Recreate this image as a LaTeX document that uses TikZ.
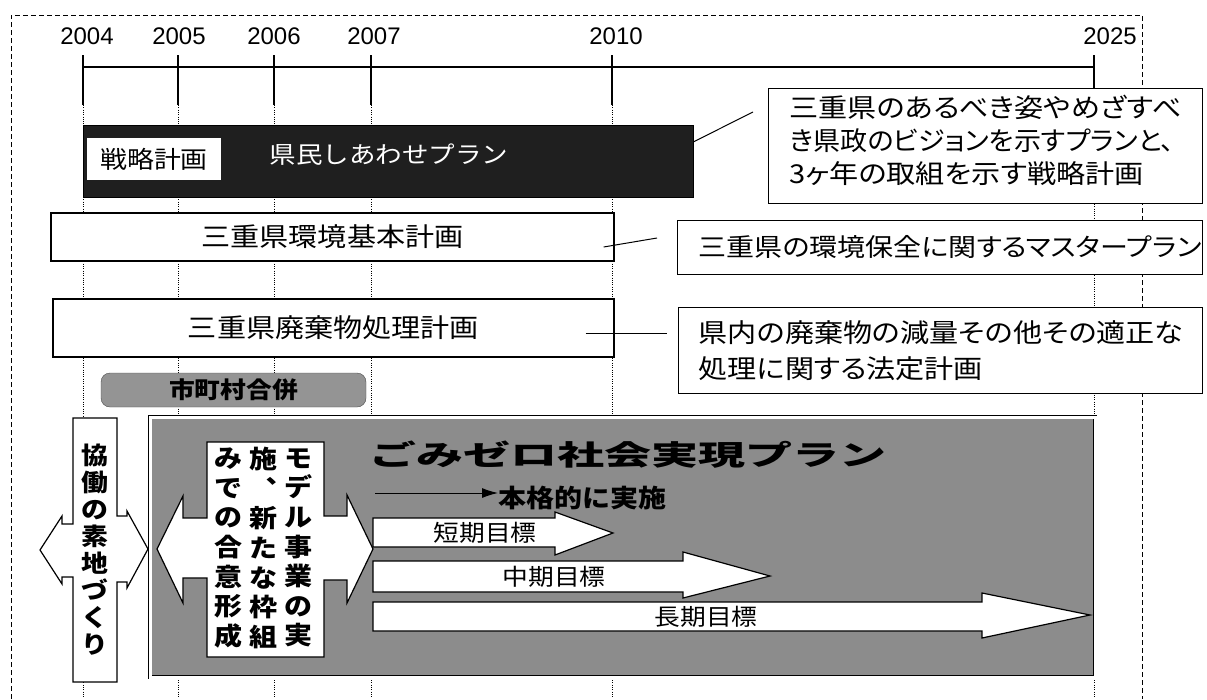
\documentclass[tikz,border=0pt]{standalone}
\usepackage{fontspec}
\usepackage{graphicx}
\setmainfont{Liberation Sans}
\newfontfamily\jp{Noto Sans CJK JP}[FakeStretch=1.12]
\newfontfamily\jpp{Noto Sans CJK JP}[FakeStretch=1.12,RawFeature=+palt]
\usetikzlibrary{positioning,calc,arrows.meta}
\newcommand{\jpsize}[2]{\fontsize{#1}{#2}\selectfont}
\tikzset{%
  >={Latex[length=16pt,width=10pt]},
  border/.style   = { dash pattern=on 5pt off 3pt, line width=0.9pt },
  gridline/.style = { dash pattern=on 1pt off 1.3pt, line width=0.8pt },
  year/.style     = { inner sep=0pt, font=\jpsize{24}{24} },
  planbox/.style  = { draw, rectangle, fill=white, line width=1.2pt, inner sep=0pt, font=\jp\jpsize{26}{26} },
  note/.style     = { draw, rectangle, fill=white, line width=1pt, inner sep=0pt },
  notetext/.style = { align=left, inner sep=0pt, font=\jpp\jpsize{26}{33} },
  link/.style     = { draw, line width=1pt },
  bigarrow/.style = { draw, fill=white, line width=1.2pt, line join=miter },
  tate/.style     = { align=center, inner sep=0pt, font=\jp\bfseries\jpsize{25}{29.6} },
  goal/.style     = { inner sep=0pt, font=\jp\jpsize{23}{23} }
}

\begin{document}
\begin{tikzpicture}[x=1pt,y=-1pt]
\useasboundingbox (0,0) rectangle (1207,699);
% frame and time axis
\draw[border] (11,699) -- (11,15) -- (1142,15) -- (1142,699);
\foreach \yr/\x/\lx in {2004/83/87,2005/178/179,2006/274/274,2007/371/374,2010/612/616,2025/1094/1110}{
  \coordinate (tick\yr) at (\x,67);
  \draw[gridline] (\x,105) -- (\x,697);
  \draw[line width=1.3pt] (\x,55) -- (\x,105);
  \node[year] (y\yr) at (\lx,36) {\yr};
}
\draw[line width=1.1pt] (tick2004) -- (tick2025);

% plans
\node[draw, fill=black!88, minimum width=610, minimum height=72, inner sep=0pt] (plan) at (388,161) {};
\node[fill=white, minimum width=134, minimum height=42, inner sep=0pt, font=\jp\jpsize{24}{24}] (senryaku) at (154,159) {戦略計画};
\node[text=white, inner sep=0pt, font=\jp\jpsize{23.7}{24}] (plantxt) at (389,155) {県民しあわせプラン};

\node[planbox, minimum width=563, minimum height=48] (env) at (332.5,237) {三重県環境基本計画};
\node[planbox, minimum width=561, minimum height=58] (waste) at (333.5,328) {三重県廃棄物処理計画};

\node[note, minimum width=434, minimum height=115] (vision) at (985,145.5) {};
\node[notetext, anchor=north west] (visiontxt) at ($(vision.north west)+(22,7)$)
  {三重県のあるべき姿やめざすべ\\\scalebox{0.93}[1]{き県政のビジョンを示すプランと、}\\3ヶ年の取組を示す戦略計画};
\node[note, minimum width=525, minimum height=54] (master) at (939.5,247) {};
\node[notetext, anchor=west, font=\jpp\jpsize{25}{25}] (mastertxt) at ($(master.west)+(22,0)$) {三重県の環境保全に関するマスタープラン};
\node[note, minimum width=524, minimum height=86] (legal) at (940,350) {};
\node[notetext, anchor=north west, font=\jpp\jpsize{26}{36}] (legaltxt) at ($(legal.north west)+(21,14)$)
  {県内の廃棄物の減量その他その適正な\\処理に関する法定計画};

\coordinate (visionend) at (753,112);
\coordinate (masterend) at (657,238);
\coordinate (legalend) at (667,333);
\draw[link] ([yshift=19pt]plan.east) -- (visionend);
\draw[link] ([xshift=-11pt,yshift=-10pt]env.east) -- (masterend);
\draw[link] ([xshift=-29pt,yshift=-5pt]waste.east) -- (legalend);

\node[draw=black!70, fill=black!42, rounded corners=9pt, minimum width=265, minimum height=34, inner sep=0pt,
  font=\jp\bfseries\jpsize{23}{23}] (merger) at (233.5,390) {市町村合併};

% zero waste plan
\node[draw, double=white, double distance=3pt, line width=0.8pt, fill=black!45,
  minimum width=945, minimum height=260, inner sep=0pt] (zero) at (622.5,547) {};

\draw[bigarrow] (73,418) -- (117,418) -- (117,516) -- (127,516) -- (127,511) -- (148,549) -- (127,588)
  -- (127,582) -- (117,582) -- (117,682) -- (73,682) -- (73,577) -- (62,577) -- (62,584) -- (40,550)
  -- (62,516) -- (62,524) -- (73,524) -- cycle;
\node[tate, font=\jp\bfseries\jpsize{24}{27}] (kyodo) at (95,550) {協\\働\\の\\素\\地\\づ\\く\\り};

\draw[bigarrow] (207,442) -- (324,442) -- (324,516) -- (347,516) -- (347,495) -- (373,549) -- (347,603)
  -- (347,580) -- (324,580) -- (324,657) -- (207,657) -- (207,578) -- (183,578) -- (183,603) -- (157,549)
  -- (183,496) -- (183,518) -- (207,518) -- cycle;
\node[tate] (model1) at (298,548) {モ\\デ\\ル\\事\\業\\の\\実};
\node[tate, left=6.5pt of model1] (model2) {施\\︑\\新\\た\\な\\枠\\組};
\node[tate, left=6.5pt of model2] (model3) {み\\で\\の\\合\\意\\形\\成};

\node[inner sep=0pt, font=\jp\bfseries\jpsize{28}{28}] (zerotitle) at (628,455) {\scalebox{1.5}[1]{ごみゼロ社会実現プラン}};

\coordinate (fullstart) at (375,493);
\node[anchor=west, inner sep=0pt, font=\jp\bfseries\jpsize{25}{25}] (fulltxt) at (498,498) {本格的に実施};
\draw[->, line width=1pt] (fullstart) -- (fullstart -| fulltxt.west);

\draw[bigarrow] (373,518) -- (555,518) -- (555,512) -- (613,533) -- (555,555) -- (555,547) -- (373,547) -- cycle;
\draw[bigarrow] (373,561) -- (683,561) -- (683,552) -- (770,576) -- (683,598) -- (683,592) -- (373,592) -- cycle;
\draw[bigarrow] (373,602) -- (982,602) -- (982,593) -- (1090,615) -- (982,638) -- (982,631) -- (373,631) -- cycle;
\node[goal] (short) at (485,533) {短期目標};
\node[goal] (middle) at (554,577) {中期目標};
\node[goal] (long) at (706,617) {長期目標};
\end{tikzpicture}
\end{document}
